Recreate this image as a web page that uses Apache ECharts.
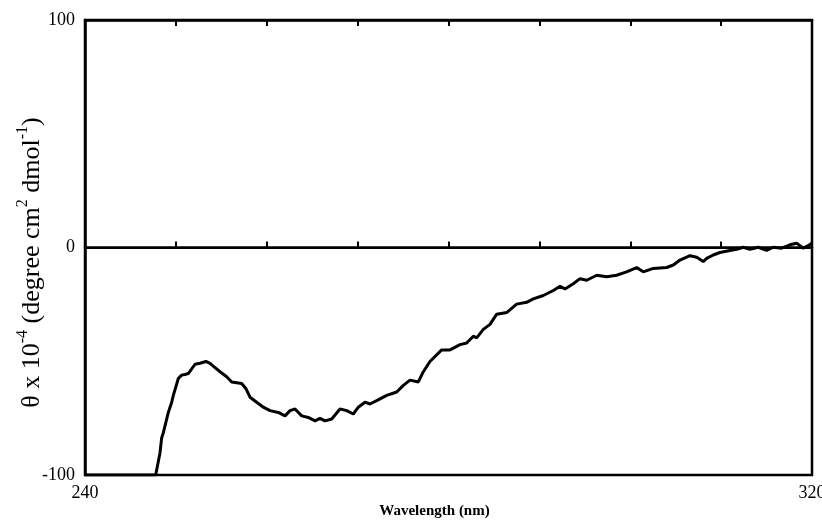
<!DOCTYPE html>
<html>
<head>
<meta charset="utf-8">
<script src="https://cdn.jsdelivr.net/npm/echarts@6/dist/echarts.min.js"></script>
<style>
html,body{margin:0;padding:0;background:#fff;}
#chart{width:822px;height:520px;}
</style>
</head>
<body>
<div id="chart"></div>
<script>
// Wavelength (nm)
const wavelength = [240, 247.78, 248.25, 248.44, 248.62, 249.17, 249.54, 249.72, 250.27, 250.63, 251.0, 251.37, 251.55, 251.92, 252.1, 252.65, 253.31, 253.76, 254.31, 254.86, 255.59, 256.14, 257.24, 257.72, 258.16, 258.89, 259.62, 260.36, 261.27, 262.01, 262.56, 263.11, 263.85, 264.57, 265.31, 265.86, 266.41, 267.15, 268.06, 268.8, 269.52, 270.07, 270.81, 271.36, 272.1, 273.2, 274.3, 275.03, 275.76, 276.68, 277.23, 277.96, 279.25, 280.16, 281.27, 282.0, 282.73, 283.1, 283.83, 284.57, 285.3, 286.4, 287.5, 288.6, 289.33, 290.43, 291.53, 292.27, 292.82, 293.73, 294.47, 295.21, 296.31, 297.41, 298.5, 299.6, 300.7, 301.43, 302.53, 304.01, 304.74, 305.47, 306.57, 307.31, 308.04, 308.41, 309.13, 309.87, 310.97, 311.71, 312.44, 313.17, 314.09, 315.01, 315.74, 316.66, 317.58, 318.31, 319.04, 319.59, 319.96];
// theta x 10^-4 (degree cm2 dmol-1)
const theta = [-100, -100, -90.3, -83.6, -81.4, -72.5, -68.0, -65.0, -57.6, -56.1, -55.8, -55.4, -54.6, -52.4, -51.3, -50.9, -50.1, -50.9, -52.8, -54.6, -56.8, -59.1, -59.8, -62.1, -65.8, -68.0, -70.2, -71.7, -72.5, -74.0, -71.7, -71.0, -74.0, -74.7, -76.2, -75.1, -76.2, -75.4, -71.0, -71.7, -73.2, -70.2, -68.0, -68.8, -67.3, -65.0, -63.5, -60.6, -58.3, -59.1, -54.6, -50.1, -45.0, -45.0, -42.7, -42.0, -39.0, -39.7, -36.0, -33.8, -29.3, -28.6, -24.9, -24.1, -22.6, -21.1, -18.9, -17.1, -18.2, -15.9, -13.7, -14.4, -12.2, -12.9, -12.2, -10.7, -8.8, -10.7, -9.2, -8.8, -7.7, -5.5, -3.6, -4.3, -6.2, -4.8, -3.3, -2.2, -1.3, -0.8, 0.1, -0.8, 0.1, -1.3, 0.1, -0.3, 1.2, 1.9, -0.3, 0.8, 1.9];
const xLabels = [240, 320];
const yTicks = [-100, 0, 100];

const serif = "'Liberation Serif', 'DejaVu Serif', serif";
const data = wavelength.map((w, i) => [w, theta[i]]);

const chart = echarts.init(document.getElementById('chart'), null, {renderer: 'canvas'});
chart.setOption({
  animation: false,
  backgroundColor: '#fff',
  grid: {left: 85, right: 10, top: 20, bottom: 45, containLabel: false, outerBoundsMode: 'none',
    show: true, borderColor: '#000', borderWidth: 2.5, backgroundColor: 'transparent'},
  xAxis: [{
    type: 'value', min: 240, max: 320, interval: 10, position: 'bottom',
    axisLine: {show: true, lineStyle: {color: '#000', width: 2.5}},
    axisTick: {show: true, inside: true, length: 6, lineStyle: {color: '#000', width: 2}},
    axisLabel: {color: '#000', fontFamily: serif, fontSize: 18, margin: 9,
      formatter: v => xLabels.indexOf(v) >= 0 ? String(v) : ''},
    splitLine: {show: false},
    name: 'Wavelength (nm)', nameLocation: 'middle', nameGap: 29, nameMoveOverlap: false,
    nameTextStyle: {color: '#000', fontFamily: serif, fontSize: 15, fontWeight: 'bold', padding: [0, 28, 0, 0]}
  }, {
    type: 'value', min: 240, max: 320, interval: 10, position: 'top',
    axisLine: {show: true, lineStyle: {color: '#000', width: 2.5}},
    axisTick: {show: true, inside: true, length: 6, lineStyle: {color: '#000', width: 2}},
    axisLabel: {show: false}, splitLine: {show: false}
  }],
  yAxis: [{
    type: 'value', min: -100, max: 100, interval: 100,
    axisLine: {show: true, lineStyle: {color: '#000', width: 2.5}},
    axisTick: {show: false},
    axisLabel: {color: '#000', fontFamily: serif, fontSize: 18, margin: 10,
      formatter: v => yTicks.indexOf(v) >= 0 ? String(v) : ''},
    splitLine: {show: true, lineStyle: {color: '#000', width: 2}},
    name: '{b|θ x 10}{sup|-4}{b| (degree cm}{sup|2}{b| dmol}{sup|-1}{b|)}',
    nameLocation: 'middle', nameGap: 40, nameRotate: 90, nameMoveOverlap: false,
    nameTextStyle: {
      color: '#000', fontFamily: serif, fontSize: 26, padding: [0, 30, 0, 0],
      rich: {
        b: {color: '#000', fontFamily: serif, fontSize: 26, lineHeight: 30, verticalAlign: 'bottom'},
        sup: {color: '#000', fontFamily: serif, fontSize: 16, lineHeight: 18, verticalAlign: 'top'}
      }
    }
  }],
  series: [{
    type: 'line', data: data, showSymbol: false, symbol: 'none',
    lineStyle: {color: '#000', width: 3}, xAxisIndex: 0, yAxisIndex: 0
  }]
});
</script>
</body>
</html>
